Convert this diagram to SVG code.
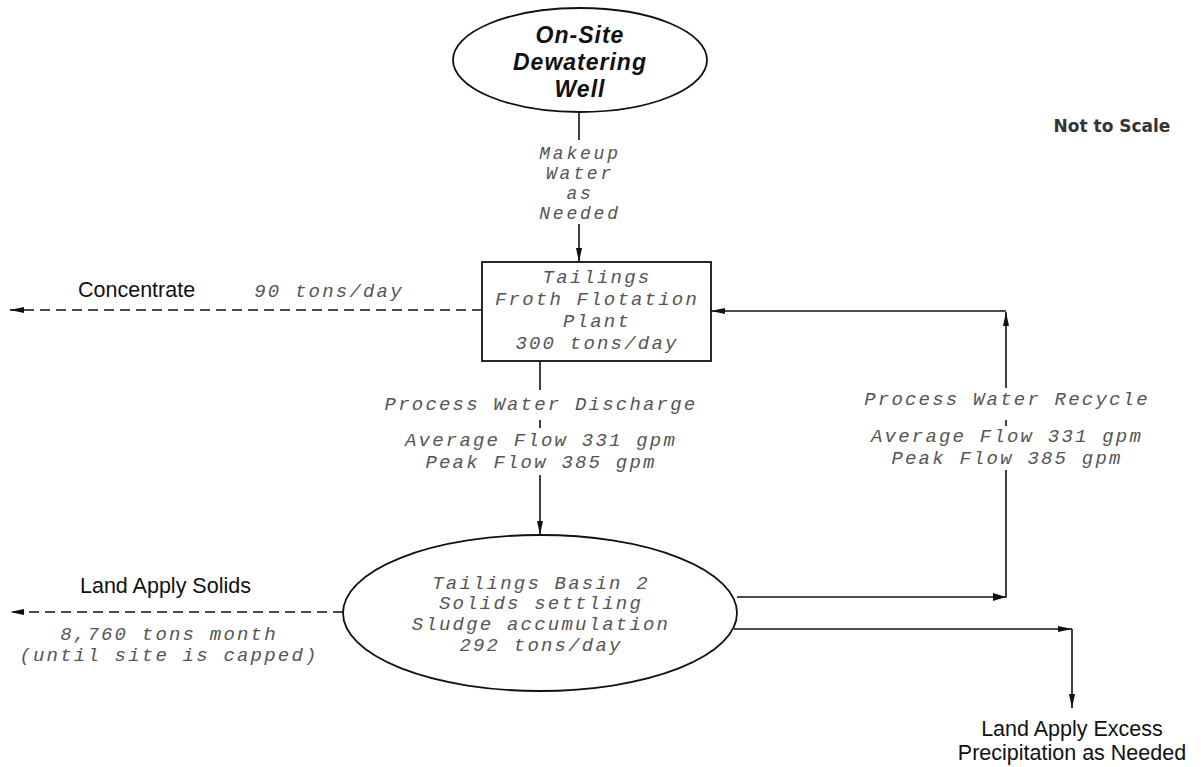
<svg xmlns="http://www.w3.org/2000/svg" width="1201" height="767" viewBox="0 0 1201 767">
<style>
.mono{font-family:"Liberation Mono","Courier New",monospace;font-style:italic;font-size:19px;letter-spacing:2.2px;fill:#555;text-anchor:middle}
.sm{font-size:18px;letter-spacing:2.8px}
.sans{font-family:"Liberation Sans",Arial,sans-serif;font-size:21.5px;fill:#111}
.ln{stroke:#111;stroke-width:1.6;fill:none}
.dash{stroke-dasharray:10,6}
.shape{stroke:#111;stroke-width:1.8;fill:#fff}
</style>
<defs>
<marker id="ah" viewBox="0 0 14 8" refX="14" refY="4" markerWidth="14" markerHeight="8" markerUnits="userSpaceOnUse" orient="auto">
<path d="M0,1 L14,4 L0,7 Z" fill="#111"/>
</marker>
</defs>
<g id="connectors">
<line class="ln" x1="579" y1="112" x2="579" y2="140"/>
<line class="ln" x1="579" y1="224" x2="579" y2="262" marker-end="url(#ah)"/>
<line class="ln dash" x1="482" y1="310" x2="10" y2="310" marker-end="url(#ah)"/>
<line class="ln" x1="540" y1="361" x2="540" y2="390"/>
<line class="ln" x1="540" y1="420" x2="540" y2="428"/>
<line class="ln" x1="540" y1="475" x2="540" y2="535" marker-end="url(#ah)"/>
<polyline class="ln" points="737,597 1006,597 1006,470"/>
<line class="ln" x1="1006" y1="388" x2="1006" y2="312" marker-end="url(#ah)"/>
<line class="ln" x1="1006" y1="420" x2="1006" y2="426"/>
<line class="ln" x1="1006" y1="311" x2="711" y2="311" marker-end="url(#ah)"/>
<line class="ln" x1="734" y1="629" x2="1072" y2="629" marker-end="url(#ah)"/>
<line class="ln" x1="1072" y1="629" x2="1072" y2="708" marker-end="url(#ah)"/>
<line class="ln dash" x1="343" y1="612" x2="10" y2="612" marker-end="url(#ah)"/>
<polygon points="993,593 1006,597 993,601" fill="#111"/>
</g>
<g id="well">
<ellipse class="shape" cx="580" cy="60" rx="127" ry="52"/>
<g font-family="Liberation Sans,Arial,sans-serif" font-weight="bold" font-style="italic" font-size="23" letter-spacing="1" fill="#111" text-anchor="middle">
<text x="580" y="43">On-Site</text>
<text x="580" y="70">Dewatering</text>
<text x="580" y="97">Well</text>
</g>
</g>
<g id="makeup-label">
<text class="mono sm" x="580" y="159">Makeup</text>
<text class="mono sm" x="580" y="179">Water</text>
<text class="mono sm" x="580" y="199">as</text>
<text class="mono sm" x="580" y="219">Needed</text>
</g>
<g id="plant">
<rect class="shape" x="482" y="262" width="229" height="99"/>
<text class="mono" x="597" y="283">Tailings</text>
<text class="mono" x="597" y="305">Froth Flotation</text>
<text class="mono" x="597" y="327">Plant</text>
<text class="mono" x="597" y="349">300 tons/day</text>
</g>
<g id="concentrate">
<text class="sans" x="78" y="297">Concentrate</text>
<text class="mono" x="329" y="297">90 tons/day</text>
</g>
<g id="discharge-label">
<text class="mono" x="541" y="410">Process Water Discharge</text>
<text class="mono" x="541" y="446">Average Flow 331 gpm</text>
<text class="mono" x="541" y="468">Peak Flow 385 gpm</text>
</g>
<g id="recycle-label">
<text class="mono" x="1007" y="405">Process Water Recycle</text>
<text class="mono" x="1007" y="442">Average Flow 331 gpm</text>
<text class="mono" x="1007" y="464">Peak Flow 385 gpm</text>
</g>
<g id="basin">
<ellipse class="shape" cx="540" cy="613" rx="197" ry="78"/>
<text class="mono" x="541" y="589">Tailings Basin 2</text>
<text class="mono" x="541" y="609">Solids settling</text>
<text class="mono" x="541" y="630">Sludge accumulation</text>
<text class="mono" x="541" y="651">292 tons/day</text>
</g>
<g id="solids">
<text class="sans" x="80" y="593">Land Apply Solids</text>
<text class="mono" x="169" y="640">8,760 tons month</text>
<text class="mono" x="169" y="661">(until site is capped)</text>
</g>
<g id="excess">
<text class="sans" x="1072" y="736" text-anchor="middle">Land Apply Excess</text>
<text class="sans" x="1072" y="760" text-anchor="middle">Precipitation as Needed</text>
</g>
<g id="note">
<text x="1112" y="132" font-family="DejaVu Sans,sans-serif" font-weight="bold" font-size="17" fill="#333" text-anchor="middle">Not to Scale</text>
</g>
</svg>
